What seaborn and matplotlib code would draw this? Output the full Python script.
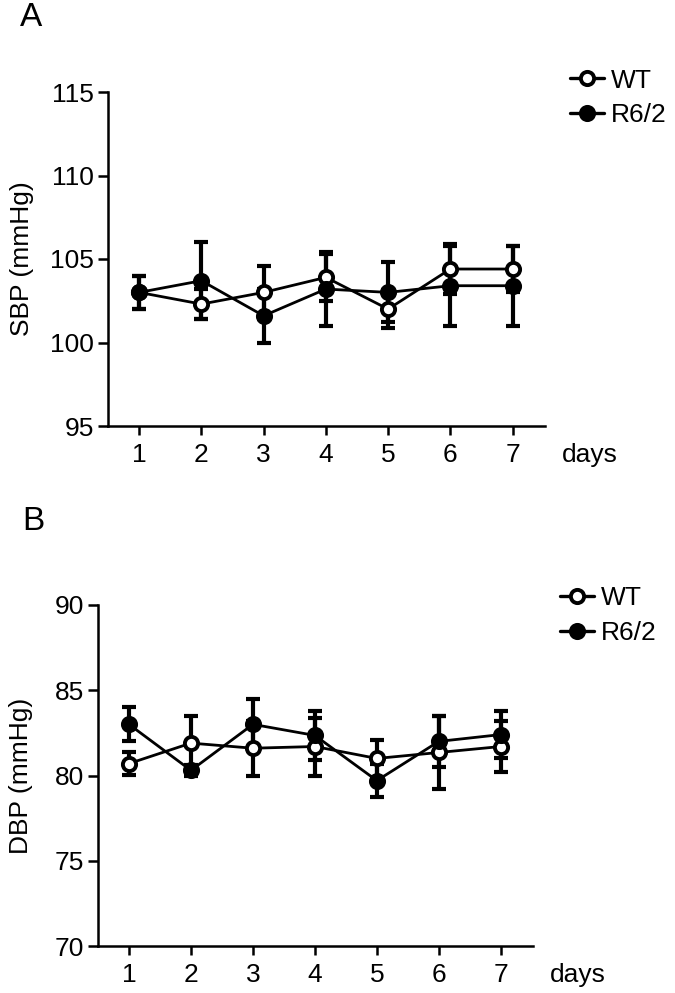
import numpy as np
import pandas as pd
import matplotlib
matplotlib.use("Agg")
import matplotlib.pyplot as plt
import seaborn as sns

# Data (mean and error per day)
days = [1, 2, 3, 4, 5, 6, 7]
groups = ["WT", "R6/2"]

sbp_wt = [103.0, 102.3, 103.0, 103.9, 102.0, 104.4, 104.4]
sbp_wt_err = [1.0, 0.9, 1.6, 1.4, 1.15, 1.5, 1.4]
sbp_r62 = [103.0, 103.7, 101.6, 103.2, 103.0, 103.4, 103.4]
sbp_r62_err = [1.0, 2.3, 1.6, 2.2, 1.8, 2.4, 2.4]

dbp_wt = [80.7, 81.9, 81.6, 81.7, 81.0, 81.35, 81.7]
dbp_wt_err = [0.65, 1.6, 1.6, 1.7, 1.1, 2.15, 1.5]
dbp_r62 = [83.0, 80.3, 83.0, 82.35, 79.7, 82.0, 82.4]
dbp_r62_err = [1.0, 0.3, 1.5, 1.45, 0.95, 1.5, 1.4]

sbp_yticks = [95, 100, 105, 110, 115]
dbp_yticks = [70, 75, 80, 85, 90]

sns.set_style("ticks")
plt.rcParams["font.family"] = ["Liberation Sans", "DejaVu Sans"]
plt.rcParams["font.size"] = 19
for key in ["text.color", "axes.labelcolor", "xtick.color", "ytick.color",
            "axes.edgecolor"]:
    plt.rcParams[key] = "black"


def build_frame(wt, wt_err, r62, r62_err):
    """Long-form table of mean/error per group and day."""
    return pd.DataFrame({
        "day": days * 2,
        "value": wt + r62,
        "err": wt_err + r62_err,
        "group": ["WT"] * len(days) + ["R6/2"] * len(days),
    })


def draw_panel(ax, df, yticks, ylabel, legend_anchor):
    faces = {"WT": "white", "R6/2": "black"}
    for g in groups:
        sub = df[df["group"] == g]
        ax.errorbar(sub["day"], sub["value"], yerr=sub["err"], fmt="none",
                    ecolor="black", elinewidth=3, capsize=4.8, capthick=3,
                    zorder=2)
        sns.lineplot(data=sub, x="day", y="value", ax=ax, color="black",
                     linewidth=2, marker="o", markersize=9.5,
                     markerfacecolor=faces[g], markeredgecolor="black",
                     markeredgewidth=2.8, label=g, zorder=3, errorbar=None)

    ax.set_xlim(0.5, 7.52)
    ax.set_ylim(yticks[0], yticks[-1])
    ax.set_xticks(days)
    ax.set_yticks(yticks)
    sns.despine(ax=ax)
    for side in ["left", "bottom"]:
        ax.spines[side].set_linewidth(1.8)
    ax.tick_params(axis="both", width=1.8, labelsize=19, colors="black")
    ax.tick_params(axis="y", length=7, pad=3)
    ax.tick_params(axis="x", length=6.5, pad=6)
    ax.set_xlabel("")
    ax.set_ylabel(ylabel, fontsize=19)
    ax.text(1.039, -0.086, "days", transform=ax.transAxes, ha="left",
            va="center", fontsize=19)
    leg = ax.legend(loc="upper left", bbox_to_anchor=legend_anchor,
                    frameon=False, borderaxespad=0, borderpad=0,
                    handlelength=1.3, handletextpad=0.25, labelspacing=0.4,
                    fontsize=19)
    for line in leg.get_lines():
        line.set_linewidth(2.4)


fig = plt.figure(figsize=(6.75, 9.93), dpi=100)
ax_a = fig.add_axes([108 / 675, 1 - 426 / 993, 437 / 675, 334 / 993])
ax_b = fig.add_axes([98 / 675, 1 - 946 / 993, 435 / 675, 341 / 993])

draw_panel(ax_a, build_frame(sbp_wt, sbp_wt_err, sbp_r62, sbp_r62_err),
           sbp_yticks, "SBP (mmHg)", (1.057, 1.07))
draw_panel(ax_b, build_frame(dbp_wt, dbp_wt_err, dbp_r62, dbp_r62_err),
           dbp_yticks, "DBP (mmHg)", (1.062, 1.055))

ax_a.yaxis.set_label_coords(-0.17, 0.5)
ax_b.yaxis.set_label_coords(-0.15, 0.5)

fig.text(20 / 675, 1 - 17 / 993, "A", fontsize=24, ha="left", va="center")
fig.text(22 / 675, 1 - 521 / 993, "B", fontsize=24, ha="left", va="center")

fig.savefig("out.png", dpi=100)
plt.close(fig)
